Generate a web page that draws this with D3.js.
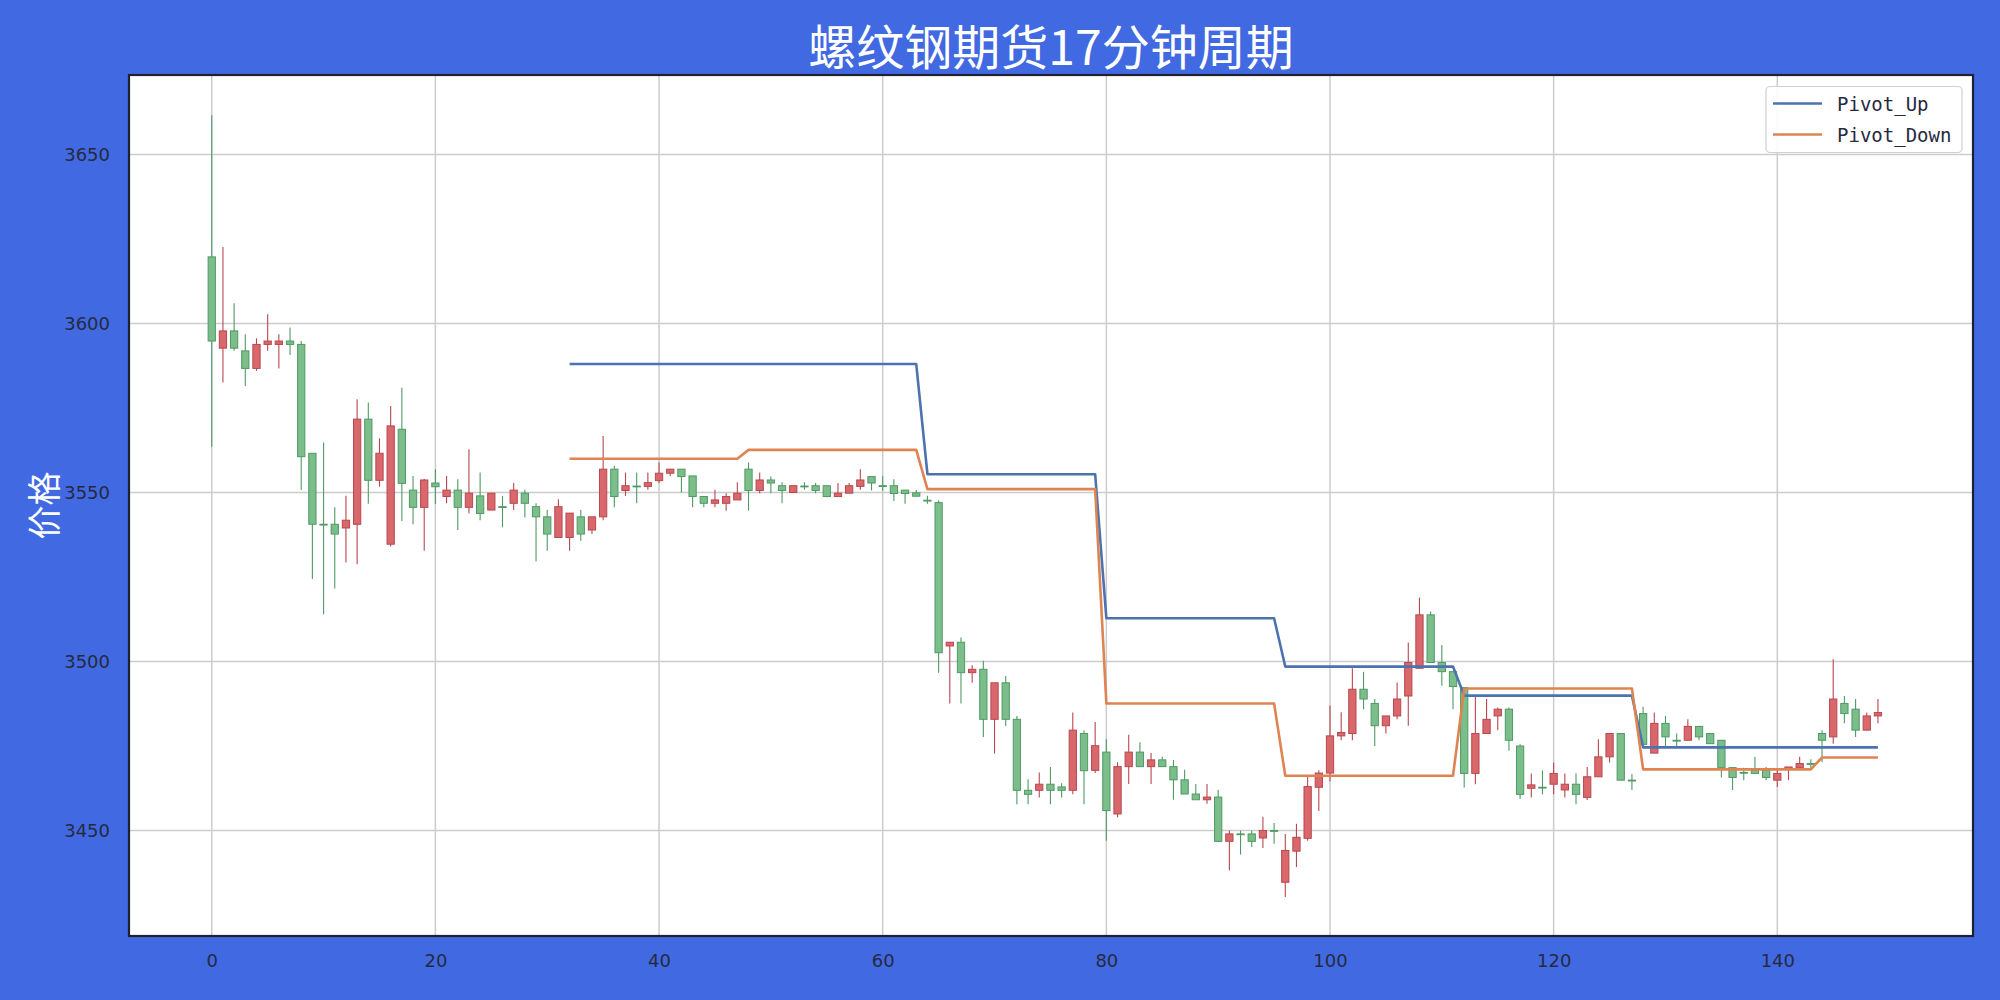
<!DOCTYPE html>
<html>
<head>
<meta charset="utf-8">
<script src="https://cdn.jsdelivr.net/npm/d3@7"></script>
<style>
html,body{margin:0;padding:0;background:#4169e1;}
svg{display:block;}
</style>
</head>
<body>
<svg id="chart" width="2000" height="1000"></svg>
<script>
const titleText = "螺纹钢期货17分钟周期";
const yLabel = "价格";
const xTicks = [0, 20, 40, 60, 80, 100, 120, 140];
const yTicks = [3450, 3500, 3550, 3600, 3650];
const seriesNames = ["Pivot_Up", "Pivot_Down"];

const openP = [
3619.7,3592.7,3597.8,3591.9,3586.7,3593.8,3593.8,3594.8,3593.8,3561.6,
3540.6,3540.6,3539.5,3540.6,3571.7,3553.6,3534.7,3568.7,3550.7,3545.6,
3552.8,3548.8,3550.7,3545.6,3549.0,3544.8,3545.8,3546.8,3549.8,3545.8,
3542.8,3536.7,3536.7,3542.8,3538.9,3542.8,3556.9,3550.6,3551.9,3551.8,
3553.5,3555.7,3556.9,3554.9,3548.8,3546.8,3546.8,3547.8,3556.9,3550.6,
3553.7,3552.0,3550.0,3551.9,3552.0,3552.0,3548.8,3549.8,3551.8,3554.7,
3552.0,3552.0,3550.7,3549.9,3547.7,3547.0,3504.6,3505.7,3496.7,3497.7,
3482.9,3493.7,3482.9,3461.9,3461.9,3463.7,3462.9,3461.9,3478.7,3467.8,
3473.2,3454.9,3468.9,3473.2,3468.9,3470.9,3468.9,3465.0,3460.8,3459.1,
3459.9,3446.8,3449.0,3449.0,3447.8,3450.0,3434.7,3443.9,3447.7,3462.8,
3467.0,3478.0,3478.7,3491.8,3487.6,3481.0,3483.9,3489.8,3498.0,3513.8,
3499.7,3497.0,3492.3,3466.9,3478.7,3483.9,3485.9,3475.0,3462.5,3462.8,
3463.7,3462.0,3463.7,3459.8,3465.9,3471.8,3478.7,3464.9,3484.6,3472.9,
3481.7,3476.7,3476.7,3480.8,3478.7,3476.7,3468.6,3467.2,3467.8,3467.8,
3464.9,3468.1,3468.6,3469.8,3478.7,3477.7,3487.6,3485.9,3479.7,3483.9];
const highP = [
3661.6,3622.6,3606.0,3596.8,3595.6,3602.7,3596.8,3598.8,3594.8,3561.6,
3564.8,3545.6,3549.0,3577.6,3576.6,3566.0,3575.6,3581.0,3554.9,3554.0,
3556.9,3554.9,3553.9,3562.8,3555.9,3549.8,3549.0,3552.8,3550.8,3546.8,
3544.8,3548.0,3543.9,3544.8,3542.8,3566.7,3557.9,3555.9,3555.9,3555.9,
3558.9,3556.9,3556.9,3554.9,3548.8,3550.8,3549.8,3553.0,3558.9,3555.9,
3554.7,3553.0,3552.0,3553.0,3552.8,3552.0,3552.8,3552.8,3556.9,3554.7,
3554.9,3553.9,3550.7,3550.7,3549.0,3547.7,3505.7,3507.1,3498.9,3500.2,
3493.7,3495.7,3483.9,3465.2,3467.2,3468.8,3464.0,3484.9,3479.7,3482.1,
3477.0,3470.2,3478.3,3476.1,3472.9,3471.9,3470.9,3468.0,3463.8,3463.8,
3462.0,3450.0,3450.0,3450.0,3454.1,3452.2,3449.0,3452.0,3465.8,3467.8,
3487.0,3485.0,3498.0,3497.0,3488.9,3483.9,3493.8,3505.6,3518.9,3514.8,
3504.9,3497.0,3492.3,3489.8,3488.9,3486.4,3486.4,3475.5,3466.9,3467.8,
3470.1,3466.9,3466.9,3468.8,3477.0,3478.7,3478.7,3466.7,3486.6,3484.9,
3483.9,3478.7,3482.9,3480.8,3478.7,3476.7,3468.8,3468.6,3471.8,3468.8,
3468.1,3468.8,3471.8,3471.1,3479.7,3500.7,3489.8,3488.9,3484.9,3488.9];
const lowP = [
3563.5,3582.5,3591.9,3581.5,3586.0,3591.9,3586.7,3590.7,3550.7,3524.4,
3514.0,3521.6,3529.3,3528.8,3546.7,3551.7,3534.0,3541.6,3540.6,3532.8,
3546.6,3546.8,3538.9,3543.8,3541.8,3544.8,3539.7,3544.8,3542.6,3529.6,
3532.8,3536.7,3532.8,3535.7,3537.7,3541.8,3545.6,3549.0,3546.8,3550.8,
3552.8,3554.9,3550.0,3545.6,3545.6,3545.6,3544.6,3547.8,3544.6,3549.8,
3549.8,3546.8,3550.0,3550.8,3549.8,3548.8,3548.8,3549.8,3550.8,3550.6,
3550.5,3547.5,3546.7,3548.9,3546.7,3496.7,3487.6,3487.6,3493.7,3477.7,
3472.8,3480.9,3457.8,3457.8,3459.8,3457.8,3459.8,3460.7,3457.8,3467.0,
3447.0,3453.9,3463.8,3468.9,3463.8,3468.9,3459.1,3460.8,3459.1,3457.9,
3446.8,3438.2,3442.9,3445.1,3444.8,3446.1,3430.3,3439.2,3447.0,3455.8,
3464.6,3476.7,3476.7,3485.9,3475.0,3478.7,3482.9,3481.0,3498.0,3499.7,
3492.8,3485.9,3462.7,3463.7,3478.7,3479.7,3473.6,3459.3,3459.8,3460.7,
3460.7,3459.8,3457.8,3459.0,3465.9,3470.1,3464.9,3462.0,3475.5,3472.9,
3474.6,3474.8,3476.7,3476.7,3475.7,3465.7,3462.0,3464.9,3466.9,3464.9,
3462.9,3464.9,3468.6,3468.6,3470.3,3475.7,3481.7,3477.7,3479.7,3481.7];
const closeP = [
3594.8,3597.8,3592.7,3586.7,3593.8,3594.8,3594.8,3593.8,3560.6,3540.6,
3540.6,3537.7,3541.8,3571.7,3553.6,3561.6,3569.7,3552.7,3545.6,3553.7,
3551.7,3550.7,3545.6,3549.8,3543.8,3549.8,3545.8,3550.7,3546.8,3542.8,
3537.7,3545.8,3543.9,3537.7,3542.8,3556.9,3548.8,3552.0,3551.9,3552.9,
3555.7,3556.9,3554.7,3548.8,3546.8,3547.8,3548.8,3549.8,3550.6,3553.7,
3552.8,3550.6,3552.0,3551.9,3550.6,3548.8,3549.8,3552.0,3553.7,3552.8,
3552.0,3549.7,3549.7,3548.9,3547.7,3502.6,3505.7,3496.7,3497.7,3482.9,
3493.7,3482.9,3461.9,3460.7,3463.7,3461.9,3461.9,3479.7,3467.7,3475.1,
3455.9,3468.9,3473.2,3468.9,3470.9,3468.9,3465.0,3460.8,3459.1,3459.9,
3446.8,3449.0,3449.0,3446.8,3450.0,3450.0,3444.1,3448.0,3463.0,3467.0,
3478.0,3479.0,3491.8,3488.9,3481.0,3483.9,3488.9,3499.7,3513.8,3499.7,
3497.0,3492.6,3466.9,3478.7,3482.9,3485.9,3476.7,3460.7,3463.5,3462.8,
3466.9,3463.7,3460.7,3465.9,3471.8,3478.7,3464.9,3464.9,3475.5,3481.7,
3477.7,3476.7,3480.8,3477.7,3475.7,3468.6,3465.7,3467.2,3466.9,3465.7,
3466.9,3468.8,3469.8,3469.8,3476.7,3488.9,3484.6,3479.7,3483.9,3484.9];

// Pivot lines (null where not defined)
const pivotUp = [
null,null,null,null,null,null,null,null,null,null,
null,null,null,null,null,null,null,null,null,null,
null,null,null,null,null,null,null,null,null,null,
null,null,3588.0,3588.0,3588.0,3588.0,3588.0,3588.0,3588.0,3588.0,
3588.0,3588.0,3588.0,3588.0,3588.0,3588.0,3588.0,3588.0,3588.0,3588.0,
3588.0,3588.0,3588.0,3588.0,3588.0,3588.0,3588.0,3588.0,3588.0,3588.0,
3588.0,3588.0,3588.0,3588.0,3555.4,3555.4,3555.4,3555.4,3555.4,3555.4,
3555.4,3555.4,3555.4,3555.4,3555.4,3555.4,3555.4,3555.4,3555.4,3555.4,
3512.8,3512.8,3512.8,3512.8,3512.8,3512.8,3512.8,3512.8,3512.8,3512.8,
3512.8,3512.8,3512.8,3512.8,3512.8,3512.8,3498.5,3498.5,3498.5,3498.5,
3498.5,3498.5,3498.5,3498.5,3498.5,3498.5,3498.5,3498.5,3498.5,3498.5,
3498.5,3498.5,3489.9,3489.9,3489.9,3489.9,3489.9,3489.9,3489.9,3489.9,
3489.9,3489.9,3489.9,3489.9,3489.9,3489.9,3489.9,3489.9,3474.6,3474.6,
3474.6,3474.6,3474.6,3474.6,3474.6,3474.6,3474.6,3474.6,3474.6,3474.6,
3474.6,3474.6,3474.6,3474.6,3474.6,3474.6,3474.6,3474.6,3474.6,3474.6];
const pivotDown = [
null,null,null,null,null,null,null,null,null,null,
null,null,null,null,null,null,null,null,null,null,
null,null,null,null,null,null,null,null,null,null,
null,null,3560.0,3560.0,3560.0,3560.0,3560.0,3560.0,3560.0,3560.0,
3560.0,3560.0,3560.0,3560.0,3560.0,3560.0,3560.0,3560.0,3562.6,3562.6,
3562.6,3562.6,3562.6,3562.6,3562.6,3562.6,3562.6,3562.6,3562.6,3562.6,
3562.6,3562.6,3562.6,3562.6,3551.0,3551.0,3551.0,3551.0,3551.0,3551.0,
3551.0,3551.0,3551.0,3551.0,3551.0,3551.0,3551.0,3551.0,3551.0,3551.0,
3487.6,3487.6,3487.6,3487.6,3487.6,3487.6,3487.6,3487.6,3487.6,3487.6,
3487.6,3487.6,3487.6,3487.6,3487.6,3487.6,3466.2,3466.2,3466.2,3466.2,
3466.2,3466.2,3466.2,3466.2,3466.2,3466.2,3466.2,3466.2,3466.2,3466.2,
3466.2,3466.2,3492.0,3492.0,3492.0,3492.0,3492.0,3492.0,3492.0,3492.0,
3492.0,3492.0,3492.0,3492.0,3492.0,3492.0,3492.0,3492.0,3468.1,3468.1,
3468.1,3468.1,3468.1,3468.1,3468.1,3468.1,3468.1,3468.1,3468.1,3468.1,
3468.1,3468.1,3468.1,3468.1,3471.6,3471.6,3471.6,3471.6,3471.6,3471.6];

const W = 2000, H = 1000;
const plot = {left: 129, right: 1973, top: 75, bottom: 936};
const svg = d3.select("#chart");

svg.append("rect").attr("width", W).attr("height", H).attr("fill", "#4169e1");
svg.append("rect").attr("x", plot.left).attr("y", plot.top)
  .attr("width", plot.right - plot.left).attr("height", plot.bottom - plot.top)
  .attr("fill", "#ffffff");

const x = d3.scaleLinear().domain([-7.4, 157.5]).range([plot.left, plot.right]);
const y = d3.scaleLinear().domain([3418.8, 3673.5]).range([plot.bottom, plot.top]);

// grid
const grid = svg.append("g");
grid.selectAll("line.gx").data(xTicks).join("line")
  .attr("x1", d => x(d)).attr("x2", d => x(d))
  .attr("y1", plot.top).attr("y2", plot.bottom)
  .attr("stroke", "#cccccc").attr("stroke-width", 1.5);
grid.selectAll("line.gy").data(yTicks).join("line")
  .attr("y1", d => y(d)).attr("y2", d => y(d))
  .attr("x1", plot.left).attr("x2", plot.right)
  .attr("stroke", "#cccccc").attr("stroke-width", 1.5);

// axes (labels only)
const xAxis = d3.axisBottom(x).tickValues(xTicks).tickSize(0).tickPadding(18);
const yAxis = d3.axisLeft(y).tickValues(yTicks).tickSize(0).tickPadding(19).tickFormat(d3.format("d"));
const gx = svg.append("g").attr("transform", `translate(0,${plot.bottom})`).call(xAxis);
const gy = svg.append("g").attr("transform", `translate(${plot.left},0)`).call(yAxis);
[gx, gy].forEach(g => {
  g.select(".domain").remove();
  g.selectAll("text").attr("fill", "#262a40").attr("font-family", "DejaVu Sans")
    .attr("font-size", 18);
});

// candles
const idx = d3.range(openP.length);
const bw = 0.65;
const upFill = "#d9686d", upStroke = "#b9474e";
const dnFill = "#7bbd8b", dnStroke = "#4f9a63";
const isUp = i => closeP[i] > openP[i];
const cg = svg.append("g");
cg.selectAll("line.wick").data(idx).join("line")
  .attr("x1", i => x(i)).attr("x2", i => x(i))
  .attr("y1", i => y(highP[i])).attr("y2", i => y(lowP[i]))
  .attr("stroke", i => isUp(i) ? upStroke : dnStroke).attr("stroke-width", 1.1);
cg.selectAll("rect.body").data(idx).join("rect")
  .attr("x", i => x(i - bw / 2))
  .attr("width", x(bw) - x(0))
  .attr("y", i => y(Math.max(openP[i], closeP[i])))
  .attr("height", i => Math.max(0.8, y(Math.min(openP[i], closeP[i])) - y(Math.max(openP[i], closeP[i]))))
  .attr("fill", i => isUp(i) ? upFill : dnFill)
  .attr("stroke", i => isUp(i) ? upStroke : dnStroke).attr("stroke-width", 1);

// pivot lines
const colors = ["#4c72b0", "#dd8452"];
const series = [pivotUp, pivotDown];
const line = d3.line().defined(d => d[1] !== null).x(d => x(d[0])).y(d => y(d[1]));
series.forEach((s, k) => {
  svg.append("path").datum(s.map((v, i) => [i, v]))
    .attr("d", line).attr("fill", "none")
    .attr("stroke", colors[k]).attr("stroke-width", 2.6)
    .attr("stroke-linejoin", "round");
});

// frame
svg.append("rect").attr("x", plot.left).attr("y", plot.top)
  .attr("width", plot.right - plot.left).attr("height", plot.bottom - plot.top)
  .attr("fill", "none").attr("stroke", "#1e2230").attr("stroke-width", 2.2);

// legend
const lg = svg.append("g");
lg.append("rect").attr("x", 1766).attr("y", 86.5).attr("width", 196).attr("height", 66)
  .attr("rx", 4).attr("fill", "#ffffff").attr("fill-opacity", 0.9)
  .attr("stroke", "#d0d0d0").attr("stroke-width", 1.2);
seriesNames.forEach((n, k) => {
  const yy = 103.5 + k * 31;
  lg.append("line").attr("x1", 1773).attr("x2", 1822).attr("y1", yy).attr("y2", yy)
    .attr("stroke", colors[k]).attr("stroke-width", 2.6);
  lg.append("text").attr("x", 1837).attr("y", yy + 7.5).text(n)
    .attr("font-family", "DejaVu Sans Mono").attr("font-size", 19).attr("fill", "#262a40");
});

// title and y label
svg.append("text").attr("x", (plot.left + plot.right) / 2).attr("y", 65)
  .attr("text-anchor", "middle").attr("fill", "#ffffff")
  .attr("font-family", "Noto Sans CJK SC").attr("font-size", 48).text(titleText);
svg.append("text").attr("transform", `translate(57,${(plot.top + plot.bottom) / 2}) rotate(-90)`)
  .attr("text-anchor", "middle").attr("fill", "#ffffff")
  .attr("font-family", "Noto Sans CJK SC").attr("font-size", 34).text(yLabel);
</script>
</body>
</html>
